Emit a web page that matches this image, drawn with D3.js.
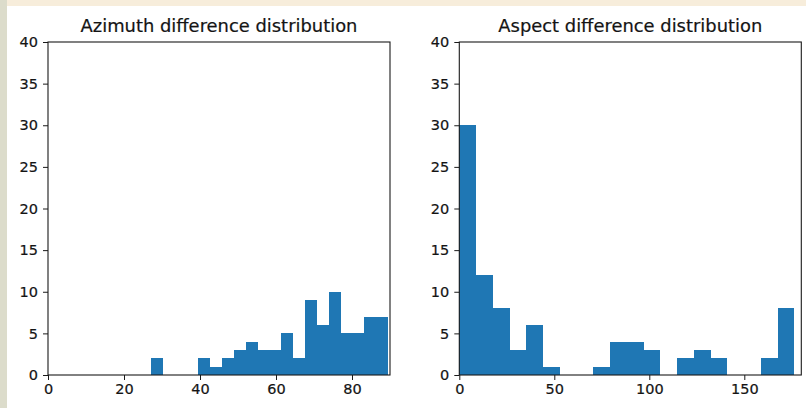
<!DOCTYPE html>
<html>
<head>
<meta charset="utf-8">
<script src="https://cdn.jsdelivr.net/npm/d3@7"></script>
<style>
  html, body { margin: 0; padding: 0; background: #ffffff; }
  svg { display: block; }
  text { font-family: "DejaVu Sans", sans-serif; fill: #141414; }
</style>
</head>
<body>
<svg id="chart" width="806" height="408"></svg>
<script>
// ---- Data ----
const azimuthTitle = "Azimuth difference distribution";
const azimuthBinRange = [27.1, 89.5];          // histogram data min/max, 20 bins
const azimuthCounts = [2, 0, 0, 0, 2, 1, 2, 3, 4, 3, 3, 5, 2, 9, 6, 10, 5, 5, 7, 7];
const azimuthXDomain = [0, 90];
const azimuthXTicks = [0, 20, 40, 60, 80];

const aspectTitle = "Aspect difference distribution";
const aspectBinRange = [0, 176.3];
const aspectCounts = [30, 12, 8, 3, 6, 1, 0, 0, 1, 4, 4, 3, 0, 2, 3, 2, 0, 0, 2, 8];
const aspectXDomain = [0, 180];
const aspectXTicks = [0, 50, 100, 150];

const yDomain = [0, 40];
const yTicks = [0, 5, 10, 15, 20, 25, 30, 35, 40];

// ---- Drawing ----
const svg = d3.select("#chart");

// frame background strips
svg.append("rect").attr("x", 0).attr("y", 0).attr("width", 806).attr("height", 408).attr("fill", "#ffffff");
svg.append("rect").attr("x", 0).attr("y", 0).attr("width", 806).attr("height", 6).attr("fill", "#f7eddb");
svg.append("rect").attr("x", 0).attr("y", 0).attr("width", 7).attr("height", 408).attr("fill", "#dcdccb");

const plotTop = 42, plotBottom = 375;

function panel(opts) {
  const { left, right, title, binRange, counts, xDomain, xTicks } = opts;
  const g = svg.append("g");
  const x = d3.scaleLinear().domain(xDomain).range([left, right]);
  const y = d3.scaleLinear().domain(yDomain).range([plotBottom, plotTop]);

  const n = counts.length;
  const bw = (binRange[1] - binRange[0]) / n;
  const bins = counts.map((c, i) => ({
    x0: binRange[0] + i * bw,
    x1: binRange[0] + (i + 1) * bw,
    c
  })).filter(d => d.c > 0);

  g.selectAll("rect.bar").data(bins).enter().append("rect")
    .attr("class", "bar")
    .attr("x", d => x(d.x0))
    .attr("width", d => x(d.x1) - x(d.x0))
    .attr("y", d => y(d.c))
    .attr("height", d => y(0) - y(d.c))
    .attr("fill", "#1f77b4")
    .attr("shape-rendering", "crispEdges");

  // axes
  const xAxis = d3.axisBottom(x).tickValues(xTicks).tickSize(5).tickPadding(4).tickFormat(d3.format("d"));
  const yAxis = d3.axisLeft(y).tickValues(yTicks).tickSize(5).tickPadding(4).tickFormat(d3.format("d"));

  const gx = g.append("g").attr("transform", `translate(0,${plotBottom})`).call(xAxis);
  const gy = g.append("g").attr("transform", `translate(${left},0)`).call(yAxis);
  [gx, gy].forEach(a => {
    a.select(".domain").remove();
    a.selectAll("line").attr("stroke", "#1a1a1a").attr("stroke-width", 1);
    a.selectAll("text").attr("font-size", "14.5px").attr("fill", "#141414")
      .attr("stroke", "#141414").attr("stroke-width", 0.2)
      .style("font-family", "'DejaVu Sans', sans-serif");
  });
  gy.selectAll("text").attr("dx", "-1");

  // spines
  g.append("rect")
    .attr("x", left).attr("y", plotTop)
    .attr("width", right - left).attr("height", plotBottom - plotTop)
    .attr("fill", "none").attr("stroke", "#1a1a1a").attr("stroke-width", 1.1);

  g.append("text")
    .attr("x", (left + right) / 2).attr("y", 31.7)
    .attr("text-anchor", "middle")
    .attr("font-size", "17.9px")
    .attr("stroke", "#141414").attr("stroke-width", 0.2)
    .text(title);
}

panel({ left: 48, right: 390, title: azimuthTitle, binRange: azimuthBinRange,
        counts: azimuthCounts, xDomain: azimuthXDomain, xTicks: azimuthXTicks });
panel({ left: 459.3, right: 801.3, title: aspectTitle, binRange: aspectBinRange,
        counts: aspectCounts, xDomain: aspectXDomain, xTicks: aspectXTicks });
</script>
</body>
</html>
